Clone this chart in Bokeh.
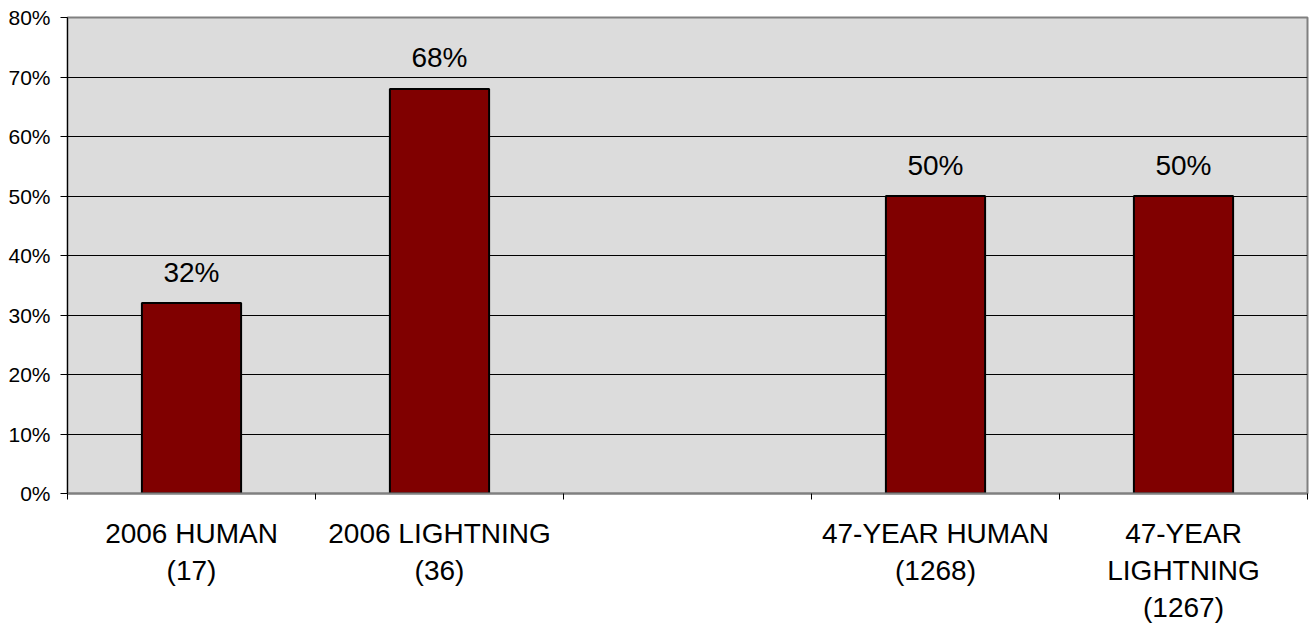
from bokeh.plotting import figure
from bokeh.models import ColumnDataSource, FixedTicker, NumeralTickFormatter
from bokeh.core.properties import value
from bokeh.embed import file_html
from bokeh.resources import INLINE

categories = ["2006 HUMAN\n(17)", "2006 LIGHTNING\n(36)", "", "47-YEAR HUMAN\n(1268)", "47-YEAR\nLIGHTNING\n(1267)"]
positions = [0.5, 1.5, 3.5, 4.5]
values = [0.32, 0.68, 0.50, 0.50]
value_labels = ["32%", "68%", "50%", "50%"]
y_ticks = [0, 0.1, 0.2, 0.3, 0.4, 0.5, 0.6, 0.7, 0.8]

FONT = "Liberation Sans"

p = figure(width=1310, height=631, x_range=(0, 5), y_range=(0, 0.8),
           output_backend="svg", toolbar_location=None,
           min_border_left=67, min_border_right=3, min_border_top=17, min_border_bottom=138)

p.background_fill_color = "#dcdcdc"
p.border_fill_color = "white"
p.outline_line_color = "#808080"
p.outline_line_width = 2

src = ColumnDataSource(dict(x=positions, top=values, lab=value_labels))
p.vbar(x="x", top="top", width=0.4, bottom=0, source=src,
       fill_color="#800000", line_color="black", line_width=2)
p.text(x="x", y="top", text="lab", source=src, text_align="center", text_baseline="middle",
       y_offset=-31, text_font=value(FONT), text_font_size="28px", text_color="black")

# x axis
centers = [i + 0.5 for i in range(len(categories))]
p.xaxis.ticker = FixedTicker(ticks=centers, minor_ticks=[0, 1, 2, 3, 4, 5])
p.xaxis.major_label_overrides = {c: lab for c, lab in zip(centers, categories)}
p.xaxis.major_tick_line_color = None
p.xaxis.minor_tick_line_color = "black"
p.xaxis.minor_tick_out = 6
p.xaxis.minor_tick_in = 0
p.xaxis.axis_line_color = "#808080"
p.xaxis.axis_line_width = 2
p.xaxis.major_label_text_font = FONT
p.xaxis.major_label_text_font_size = "28px"
p.xaxis.major_label_text_color = "black"
p.xaxis.major_label_standoff = 18
p.xaxis.major_label_text_line_height = 1.2
p.xgrid.grid_line_color = None

# y axis
p.yaxis.ticker = FixedTicker(ticks=y_ticks)
p.yaxis.formatter = NumeralTickFormatter(format="0%")
p.yaxis.axis_line_color = "black"
p.yaxis.axis_line_width = 1
p.yaxis.major_tick_line_color = "black"
p.yaxis.major_tick_out = 7
p.yaxis.major_tick_in = 0
p.yaxis.minor_tick_line_color = None
p.yaxis.major_label_text_font = FONT
p.yaxis.major_label_text_font_size = "21px"
p.yaxis.major_label_text_color = "black"
p.yaxis.major_label_standoff = 10
p.ygrid.grid_line_color = "black"
p.ygrid.grid_line_width = 1

open("out.html", "w").write(file_html(p, INLINE))
